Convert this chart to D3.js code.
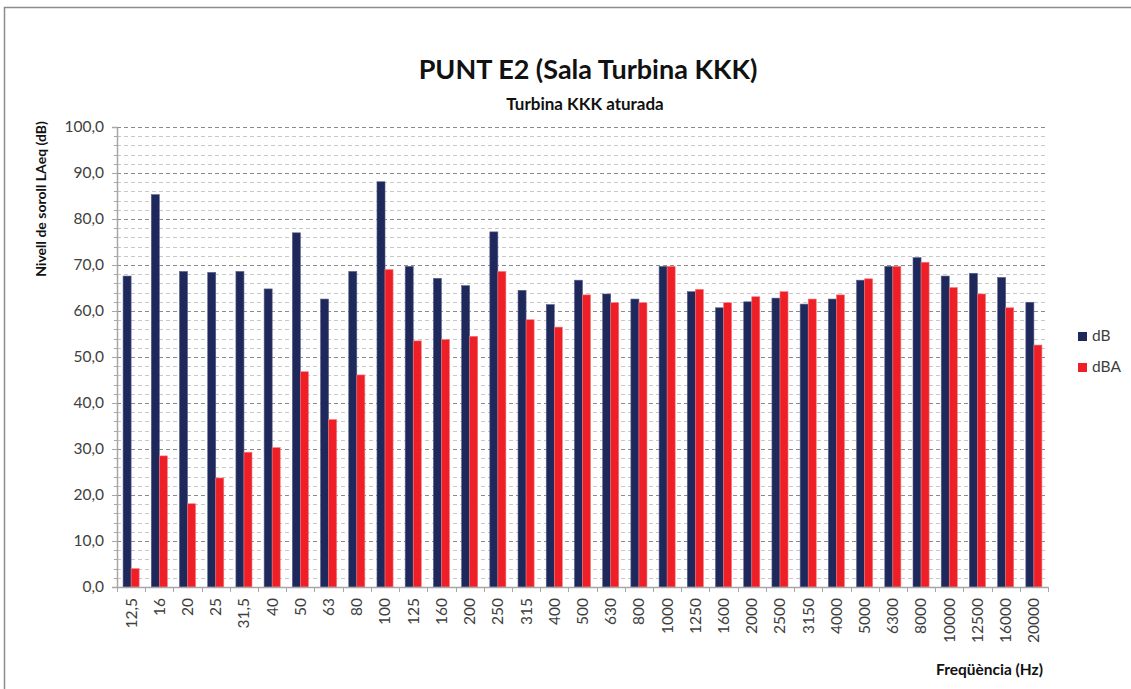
<!DOCTYPE html>
<html>
<head>
<meta charset="utf-8">
<script src="https://cdn.jsdelivr.net/npm/d3@7"></script>
<style>
  body { margin: 0; background: #fff; }
  text { font-family: Lato, "Open Sans", sans-serif; }
</style>
</head>
<body>
<div id="chart"></div>
<script>
    // frequency bands (Hz)
    var categories = ["12,5", "16", "20", "25", "31,5", "40", "50", "63", "80", "100",
        "125", "160", "200", "250", "315", "400", "500", "630", "800", "1000",
        "1250", "1600", "2000", "2500", "3150", "4000", "5000", "6300", "8000",
        "10000", "12500", "16000", "20000"];

    var dB = [67.6, 85.3, 68.6, 68.4, 68.6, 64.8, 77.0, 62.6, 68.6, 88.1,
        69.7, 67.1, 65.5, 77.2, 64.5, 61.4, 66.7, 63.7, 62.6, 69.7,
        64.2, 60.7, 62.0, 62.8, 61.5, 62.6, 66.7, 69.7, 71.6,
        67.6, 68.2, 67.3, 61.9];

    var dBA = [4.0, 28.5, 18.1, 23.7, 29.3, 30.3, 46.8, 36.4, 46.1, 69.0,
        53.5, 53.8, 54.5, 68.6, 58.1, 56.5, 63.5, 61.8, 61.8, 69.7,
        64.7, 61.8, 63.1, 64.2, 62.6, 63.5, 67.0, 69.7, 70.6,
        65.1, 63.7, 60.7, 52.6];

    var seriesNames = ["dB", "dBA"];
    var yTicks = [0, 10, 20, 30, 40, 50, 60, 70, 80, 90, 100];

    var colors = { "dB": "#1f285b", "dBA": "#ee1f26" };

    var W = 1131, H = 689;
    var margin = {top: 127, right: 83, bottom: 102, left: 117};
    var width = W - margin.left - margin.right;
    var height = H - margin.top - margin.bottom;

    var svg = d3.select("#chart")
      .append("svg")
        .attr("width", W)
        .attr("height", H);

    // chart frame
    svg.append("path")
        .attr("d", "M4.5," + H + "V7.5H" + W)
        .attr("fill", "none")
        .attr("stroke", "#8c8c8c")
        .attr("stroke-width", 1.5);

    var g = svg.append("g")
        .attr("transform", "translate(" + margin.left + "," + margin.top + ")");

    var x = d3.scaleBand().domain(categories).range([0, width]).paddingInner(0).paddingOuter(0);
    var x1 = d3.scaleBand().domain(seriesNames).range([x.bandwidth() * 0.215, x.bandwidth() * 0.785]);
    var y = d3.scaleLinear().domain([0, 100]).range([height, 0]);

    // minor gridlines every 2
    var minor = d3.range(0, 101, 2).filter(function(d) { return d % 10 !== 0; });
    g.selectAll(".minor")
      .data(minor)
      .enter().append("line")
        .attr("x1", 0).attr("x2", width)
        .attr("y1", function(d) { return Math.round(y(d)) + 0.5; })
        .attr("y2", function(d) { return Math.round(y(d)) + 0.5; })
        .attr("stroke", "#c8c8c8")
        .attr("stroke-dasharray", "4,3");

    // major gridlines
    g.selectAll(".major")
      .data(yTicks.slice(1))
      .enter().append("line")
        .attr("x1", 0).attr("x2", width)
        .attr("y1", function(d) { return Math.round(y(d)) + 0.5; })
        .attr("y2", function(d) { return Math.round(y(d)) + 0.5; })
        .attr("stroke", "#8a8a8a")
        .attr("stroke-dasharray", "4,3");

    // bars
    var groups = g.selectAll(".cat")
      .data(categories)
      .enter().append("g")
        .attr("transform", function(d) { return "translate(" + x(d) + ",0)"; });

    groups.selectAll("rect")
      .data(function(d, i) { return [{k: "dB", v: dB[i]}, {k: "dBA", v: dBA[i]}]; })
      .enter().append("rect")
        .attr("x", function(d) { return x1(d.k); })
        .attr("width", x1.bandwidth())
        .attr("y", function(d) { return y(d.v); })
        .attr("height", function(d) { return height - y(d.v); })
        .attr("fill", function(d) { return colors[d.k]; })
        .attr("stroke", function(d) { return d.k == "dB" ? "#5a628a" : "#f47a7e"; })
        .attr("stroke-width", 0.6);

    // y axis
    var yAxis = g.append("g")
        .call(d3.axisLeft(y).tickValues(yTicks).tickSize(5).tickPadding(8)
            .tickFormat(function(d) { return d3.format(".1f")(d).replace(".", ","); }));
    yAxis.select(".domain").attr("stroke", "#a6a6a6").attr("stroke-width", 1.5);
    yAxis.selectAll(".tick line").attr("stroke", "#a6a6a6");
    yAxis.selectAll("text")
        .style("font-size", "15.5px")
        .attr("fill", "#404040");

    // minor ticks on y axis
    g.selectAll(".ymin")
      .data(minor)
      .enter().append("line")
        .attr("x1", -3).attr("x2", 0)
        .attr("y1", function(d) { return Math.round(y(d)) + 0.5; })
        .attr("y2", function(d) { return Math.round(y(d)) + 0.5; })
        .attr("stroke", "#a6a6a6");

    // x axis
    var xAxis = g.append("g")
        .attr("transform", "translate(0," + height + ")")
        .call(d3.axisBottom(x).tickSize(0).tickSizeOuter(0));
    xAxis.select(".domain").attr("stroke", "#a6a6a6").attr("stroke-width", 1.5);
    xAxis.selectAll("text")
        .attr("transform", "rotate(-90)")
        .attr("x", -11)
        .attr("y", 0)
        .attr("dy", "0.35em")
        .style("text-anchor", "end")
        .style("font-size", "15.5px")
        .attr("fill", "#404040");

    // category separators below axis
    g.selectAll(".xsep")
      .data(categories.concat(["end"]))
      .enter().append("line")
        .attr("x1", function(d, i) { return Math.round(i * x.bandwidth()) + 0.5; })
        .attr("x2", function(d, i) { return Math.round(i * x.bandwidth()) + 0.5; })
        .attr("y1", height)
        .attr("y2", height + 5)
        .attr("stroke", "#a6a6a6");

    // titles
    svg.append("text")
        .attr("x", 588).attr("y", 79)
        .style("text-anchor", "middle")
        .style("font-size", "27px")
        .style("font-weight", "bold")
        .attr("fill", "#111")
        .text("PUNT E2 (Sala Turbina KKK)");

    svg.append("text")
        .attr("x", 585).attr("y", 110)
        .style("text-anchor", "middle")
        .style("font-size", "17px")
        .style("font-weight", "bold")
        .attr("fill", "#111")
        .text("Turbina KKK aturada");

    // y axis label
    svg.append("text")
        .attr("transform", "translate(46,199) rotate(-90)")
        .style("text-anchor", "middle")
        .style("font-size", "14px")
        .style("font-weight", "bold")
        .attr("fill", "#111")
        .text("Nivell de soroll LAeq (dB)");

    // x axis label
    svg.append("text")
        .attr("x", 1043).attr("y", 675)
        .style("text-anchor", "end")
        .style("font-size", "15.5px")
        .style("font-weight", "bold")
        .attr("fill", "#111")
        .text("Freqüència (Hz)");

    // legend
    var legend = svg.selectAll(".legend")
      .data(seriesNames)
      .enter().append("g")
        .attr("transform", function(d, i) { return "translate(1078," + (332 + i * 31) + ")"; });

    legend.append("rect")
        .attr("width", 9).attr("height", 9)
        .attr("fill", function(d) { return colors[d]; });

    legend.append("text")
        .attr("x", 14).attr("y", 9)
        .style("font-size", "15.5px")
        .attr("fill", "#404040")
        .text(function(d) { return d; });
</script>
</body>
</html>
